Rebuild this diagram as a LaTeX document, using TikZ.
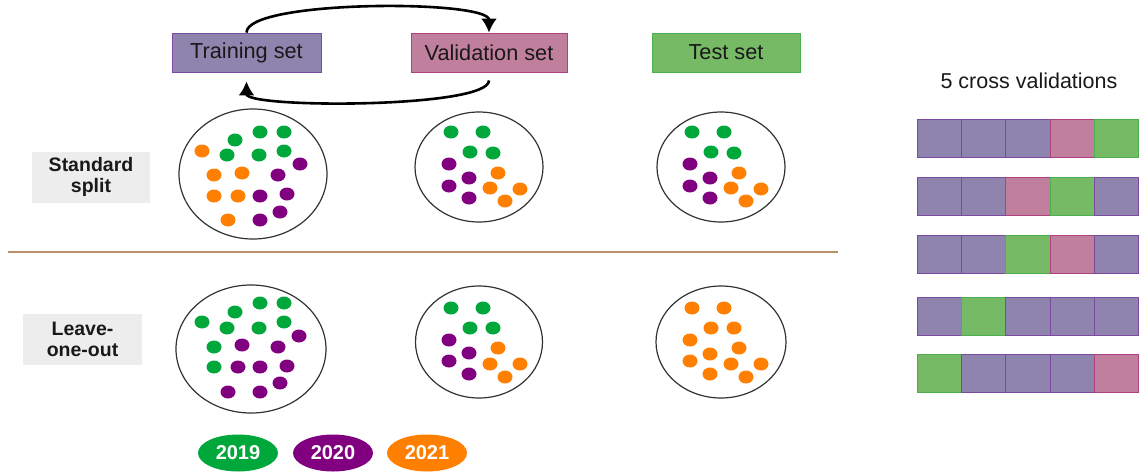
\documentclass[tikz,border=0pt]{standalone}
\usepackage{fontspec}
\setmainfont{Liberation Sans}
\usetikzlibrary{arrows.meta,shapes.geometric}

\definecolor{yrA}{RGB}{0,168,60}
\definecolor{yrB}{RGB}{128,0,128}
\definecolor{yrC}{RGB}{255,128,0}
\definecolor{trainfill}{HTML}{8E84AE}
\definecolor{trainline}{HTML}{7A4A9E}
\definecolor{valfill}{HTML}{C07F9C}
\definecolor{valline}{HTML}{B0407F}
\definecolor{testfill}{HTML}{77BA65}
\definecolor{testline}{HTML}{4CAF50}
\definecolor{rulecol}{HTML}{B8916A}
\definecolor{labelbg}{HTML}{EDEDED}

\tikzset{
  setbox/.style={draw, line width=0.9pt, minimum height=39pt, inner sep=0pt,
    font=\fontsize{21.7}{24}\selectfont, text=black!90},
  trainbox/.style={setbox, fill=trainfill, draw=trainline},
  valbox/.style={setbox, fill=valfill, draw=valline},
  testbox/.style={setbox, fill=testfill, draw=testline},
  cell/.style={draw, line width=0.9pt, minimum width=44.2pt, minimum height=38pt,
    inner sep=0pt, anchor=north west},
  tc/.style={cell, fill=trainfill, draw=trainline},
  vc/.style={cell, fill=valfill, draw=valline},
  sc/.style={cell, fill=testfill, draw=testline},
  rowlabel/.style={fill=labelbg, align=center, inner sep=0pt, text=black!90,
    font=\bfseries\fontsize{19.5}{21}\selectfont, minimum height=51pt},
  yearkey/.style={ellipse, inner sep=0pt, minimum width=80pt, minimum height=37pt,
    text=white, font=\bfseries\fontsize{20}{22}\selectfont},
  pool/.style={draw=black!80, line width=1.2pt},
  arr/.style={-{Latex[length=14pt,width=16pt]}, line width=2.6pt},
}

\begin{document}
\begin{tikzpicture}[x=1pt,y=-1pt]
\useasboundingbox (0,0) rectangle (1140,472);

% set boxes
\node[trainbox, minimum width=149pt] (train) at (246.5,52.5) {Training set};
\node[valbox, minimum width=156pt] (val) at (489,52.5) {Validation set};
\node[testbox, minimum width=148pt] (test) at (726,52.5) {Test set};

% exchange between training and validation
\draw[arr] (train.north) .. controls +(0,-33) and +(0,-33) .. (val.north);
\draw[arr, shorten <=8pt, shorten >=9pt] (val.south) .. controls +(0,36) and +(0,36) .. (train.south);

% row labels and separator
\node[rowlabel, minimum width=118pt] (std) at (91,177) {Standard\\split};
\node[rowlabel, minimum width=119pt] (loo) at (82.5,339) {Leave-\\one-out};
\draw[rulecol, line width=1.4pt] (8,252) -- (838,252);

% pools
\draw[pool] (253,174) ellipse (74 and 65);
\draw[pool] (479,167) ellipse (64 and 55);
\draw[pool] (721,167) ellipse (64 and 55);
\draw[pool] (251,349) ellipse (75 and 64);
\draw[pool] (479,342) ellipse (63.5 and 56);
\draw[pool] (721,342) ellipse (65 and 56);

% standard split: training pool
\foreach \p in {(235,140),(260,132),(284,132),(227,155),(259,155),(284,151)}
  \fill[yrA] \p ellipse (7.5 and 6.5);
\foreach \p in {(202,151),(214,175),(242,173),(214,196),(238,196),(228,220)}
  \fill[yrC] \p ellipse (7.5 and 6.5);
\foreach \p in {(300,164),(278,175),(260,196),(287,194),(280,212),(260,220)}
  \fill[yrB] \p ellipse (7.5 and 6.5);

% standard split: validation and test pools
\foreach \dx in {0,241}{
  \foreach \p in {(451,132),(483,132),(470,152),(493,153)}
    \fill[yrA, xshift=\dx] \p ellipse (7.5 and 6.5);
  \foreach \p in {(449,164),(469,178),(449,186),(469,198)}
    \fill[yrB, xshift=\dx] \p ellipse (7.5 and 6.5);
  \foreach \p in {(498,173),(490,188),(520,189),(505,201)}
    \fill[yrC, xshift=\dx] \p ellipse (7.5 and 6.5);
}

% leave-one-out: training pool
\foreach \p in {(202,322),(235,312),(260,303),(284,303),(227,328),(259,328),(284,322),(214,347),(214,367)}
  \fill[yrA] \p ellipse (7.5 and 6.5);
\foreach \p in {(299,336),(242,345),(278,347),(238,367),(260,367),(287,366),(280,383),(228,392),(260,392)}
  \fill[yrB] \p ellipse (7.5 and 6.5);

% leave-one-out: validation pool
\foreach \p in {(451,308),(483,308),(470,328),(493,328)}
  \fill[yrA] \p ellipse (7.5 and 6.5);
\foreach \p in {(449,340),(469,353),(449,361),(469,374)}
  \fill[yrB] \p ellipse (7.5 and 6.5);
\foreach \p in {(498,348),(490,364),(520,364),(505,377)}
  \fill[yrC] \p ellipse (7.5 and 6.5);

% leave-one-out: test pool
\foreach \p in {(692,308),(724,308),(711,328),(734,328),(690,340),(710,354),(690,361),(710,374),(739,348),(731,364),(761,364),(746,377)}
  \fill[yrC] \p ellipse (7.5 and 6.5);

% year key
\node[yearkey, fill=yrA] (k19) at (238,453) {2019};
\node[yearkey, fill=yrB] (k20) at (333,453) {2020};
\node[yearkey, fill=yrC] (k21) at (427,453) {2021};

% cross-validation folds
\node[font=\fontsize{21.5}{24}\selectfont, text=black!90] (cvtitle) at (1029,81) {5 cross validations};
\foreach \r/\y/\seq in {1/119/{tc,tc,tc,vc,sc}, 2/177/{tc,tc,vc,sc,tc}, 3/235/{tc,tc,sc,vc,tc},
                        4/297/{tc,sc,tc,tc,tc}, 5/354/{sc,tc,tc,tc,vc}}{
  \foreach \k [count=\c from 0] in \seq
    \node[\k] (f\r-\c) at ({917+44.2*\c},\y) {};
}
\end{tikzpicture}
\end{document}
